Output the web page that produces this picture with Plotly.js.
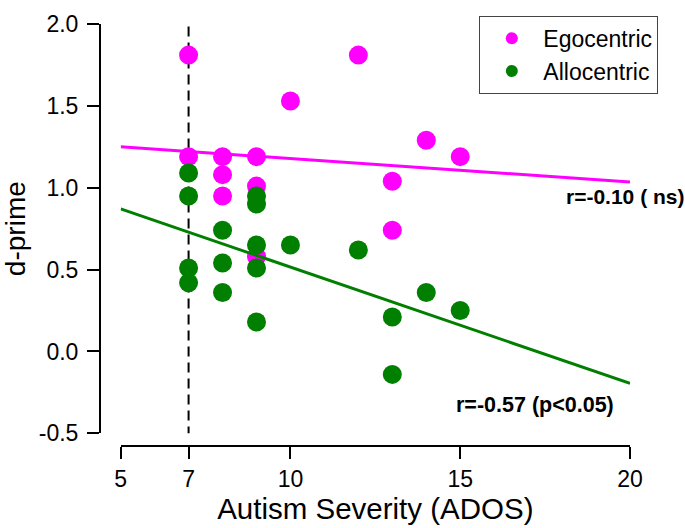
<!DOCTYPE html>
<html>
<head>
<meta charset="utf-8">
<script src="https://cdn.plot.ly/plotly-3.0.1.min.js"></script>
<style>
html,body{margin:0;padding:0;background:#fff;}
#chart{width:685px;height:528px;}
</style>
</head>
<body>
<div id="chart"></div>
<script>
// Data
const egoX = [7, 7, 8, 8, 8, 9, 9, 9, 10, 12, 13, 13, 14, 15];
const egoY = [1.81, 1.19, 1.19, 1.08, 0.95, 1.19, 1.01, 0.58, 1.53, 1.81, 1.04, 0.74, 1.29, 1.19];
const alloX = [7, 7, 7, 7, 8, 8, 8, 9, 9, 9, 9, 9, 10, 12, 13, 13, 14, 15];
const alloY = [1.09, 0.95, 0.51, 0.42, 0.74, 0.54, 0.36, 0.95, 0.90, 0.65, 0.51, 0.18, 0.65, 0.62, 0.21, -0.14, 0.36, 0.25];
const fitX = [5, 20];
const egoFitY = [1.25, 1.035];
const alloFitY = [0.871, -0.195];
const xTicks = [5, 7, 10, 15, 20];
const yTicks = [-0.5, 0, 0.5, 1.0, 1.5, 2.0];
const yTickText = ['-0.5', '0.0', '0.5', '1.0', '1.5', '2.0'];
const cutoffX = 7;

const MAG = '#ff00ff';
const GRN = '#007f00';
const FONT = 'Liberation Sans, Arial, sans-serif';

const traces = [
  {x: egoX, y: egoY, type: 'scatter', mode: 'markers', name: 'Egocentric',
   marker: {color: MAG, size: 19}, cliponaxis: false},
  {x: alloX, y: alloY, type: 'scatter', mode: 'markers', name: 'Allocentric',
   marker: {color: GRN, size: 19}, cliponaxis: false},
  {x: fitX, y: egoFitY, type: 'scatter', mode: 'lines', showlegend: false,
   line: {color: MAG, width: 3}, hoverinfo: 'skip'},
  {x: fitX, y: alloFitY, type: 'scatter', mode: 'lines', showlegend: false,
   line: {color: GRN, width: 3}, hoverinfo: 'skip'}
];

const layout = {
  width: 685, height: 528,
  margin: {l: 100, r: 55, t: 24, b: 82, pad: 0},
  paper_bgcolor: '#fff', plot_bgcolor: '#fff',
  font: {family: FONT, color: '#000', size: 23},
  showlegend: true,
  legend: {x: 0.7157, y: 1.0197, xanchor: 'left', yanchor: 'top',
           bordercolor: '#444', borderwidth: 1, bgcolor: '#fff',
           font: {family: FONT, size: 23, color: '#000'},
           itemsizing: 'constant', itemwidth: 53, tracegroupgap: 0},
  xaxis: {
    domain: [0.039, 1], range: [5, 20], anchor: 'free', position: 0,
    tickmode: 'array', tickvals: xTicks, ticktext: xTicks.map(String),
    ticks: 'outside', ticklen: 12, tickwidth: 2, tickcolor: '#000',
    showline: true, linewidth: 2, linecolor: '#000',
    showgrid: false, zeroline: false,
    tickfont: {family: FONT, size: 23, color: '#000'},
    title: {text: 'Autism Severity (ADOS)', font: {family: FONT, size: 29.5, color: '#000'}, standoff: 6}
  },
  yaxis: {
    domain: [0.030, 1], range: [-0.5, 2.0], anchor: 'free', position: 0,
    tickmode: 'array', tickvals: yTicks, ticktext: yTickText,
    ticks: 'outside', ticklen: 12, tickwidth: 2, tickcolor: '#000',
    showline: true, linewidth: 2, linecolor: '#000',
    showgrid: false, zeroline: false, ticklabelstandoff: 4,
    tickfont: {family: FONT, size: 23, color: '#000'},
    title: {text: 'd-prime', font: {family: FONT, size: 28, color: '#000'}, standoff: 6}
  },
  shapes: [
    {type: 'line', xref: 'x', yref: 'y', x0: cutoffX, x1: cutoffX, y0: -0.52, y1: 1.99,
     line: {color: '#000', width: 2, dash: '10px,6px'}, layer: 'below'}
  ],
  annotations: [
    {text: 'cut-off', xref: 'x', yref: 'y', x: cutoffX, y: 2.074, showarrow: false,
     xanchor: 'center', yanchor: 'middle', font: {family: FONT, size: 20, color: '#000'}},
    {text: '<b>r=-0.10 ( ns)</b>', xref: 'x', yref: 'y', x: 19.84, y: 0.944, showarrow: false,
     xanchor: 'center', yanchor: 'middle', font: {family: FONT, size: 21, color: '#000'}},
    {text: '<b>r=-0.57 (p<0.05)</b>', xref: 'x', yref: 'y', x: 17.2, y: -0.327, showarrow: false,
     xanchor: 'center', yanchor: 'middle', font: {family: FONT, size: 21.5, color: '#000'}}
  ]
};

Plotly.newPlot('chart', traces, layout, {displayModeBar: false, staticPlot: true});
</script>
</body>
</html>
